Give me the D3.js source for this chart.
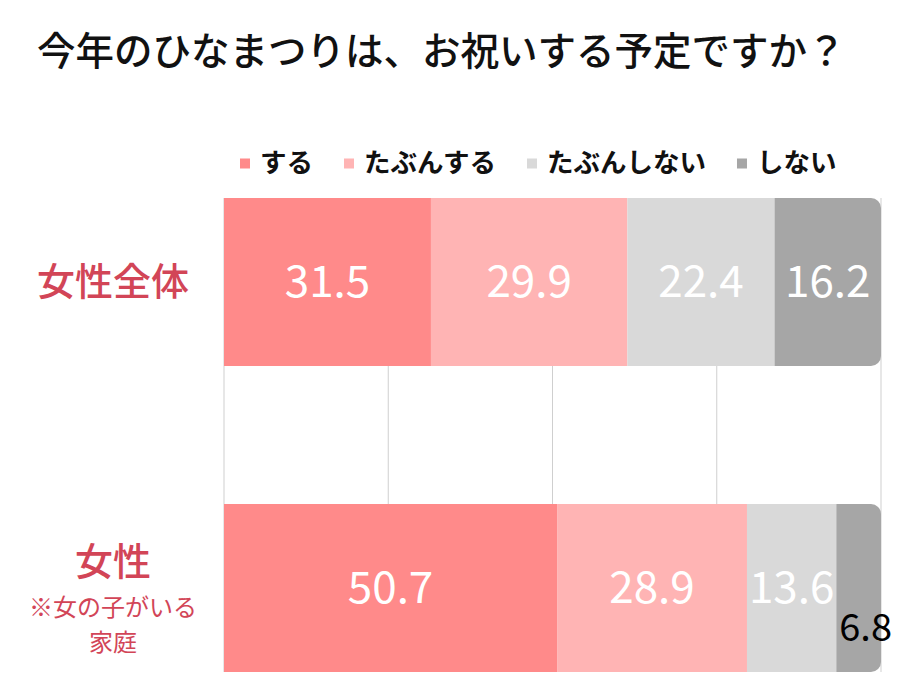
<!DOCTYPE html>
<html><head><meta charset="utf-8">
<script src="https://cdn.jsdelivr.net/npm/d3@7"></script>
<style>body{margin:0;background:#fff}svg{display:block;font-family:"Noto Sans CJK JP","Noto Sans",sans-serif}</style>
</head><body><svg id="c" width="900" height="699"></svg>
<script>
const title = "今年のひなまつりは、お祝いする予定ですか？";
const categories = ["女性全体", "女性"];
const categoryNotes = [[], ["※女の子がいる", "家庭"]];
const seriesNames = ["する", "たぶんする", "たぶんしない", "しない"];
const seriesColors = ["#FF8A8A", "#FFB4B4", "#D9D9D9", "#A6A6A6"];
const values = [
  [31.5, 29.9, 22.4, 16.2],
  [50.7, 28.9, 13.6, 6.8]
];
const gridTicks = [0, 25, 50, 75, 100];

const svg = d3.select("#c");
const x = d3.scaleLinear().domain([0, 100]).range([224, 881]);
const y = d3.scaleBand().domain(categories).range([198, 672]).paddingInner(0.451).paddingOuter(0);
const color = d3.scaleOrdinal().domain(seriesNames).range(seriesColors);

svg.append("text").attr("x", 37).attr("y", 65).attr("font-size", 38.5).attr("font-weight", 500)
  .attr("fill", "#111").text(title);

// legend
const lg = svg.append("g");
let lx = 240;
seriesNames.forEach(n => {
  lg.append("rect").attr("x", lx).attr("y", 158.5).attr("width", 10).attr("height", 10).attr("fill", color(n));
  const t = lg.append("text").attr("x", lx + 20).attr("y", 163).attr("dy", "0.35em")
    .attr("font-size", 26.5).attr("font-weight", 700).attr("fill", "#111").text(n);
  lx += 20 + t.node().getComputedTextLength() + 31;
});

// grid
svg.append("g").selectAll("line").data(gridTicks).join("line")
  .attr("x1", d => x(d)).attr("x2", d => x(d))
  .attr("y1", y.range()[0]).attr("y2", y.range()[1])
  .attr("stroke", "#cfcfcf").attr("stroke-width", 1);

// clip for rounded right end
const defs = svg.append("defs");
categories.forEach((c, i) => {
  defs.append("clipPath").attr("id", "clip" + i).append("rect")
    .attr("x", x(0) - 20).attr("y", y(c)).attr("width", x(100) - x(0) + 20).attr("height", y.bandwidth())
    .attr("rx", 10).attr("ry", 10);
});

const stacked = values.map(row => {
  let acc = 0;
  return row.map((v, j) => { const s = {x0: acc, x1: acc + v, v, j}; acc += v; return s; });
});

categories.forEach((c, i) => {
  const g = svg.append("g").attr("clip-path", `url(#clip${i})`);
  g.selectAll("rect").data(stacked[i]).join("rect")
    .attr("x", d => x(d.x0)).attr("y", y(c))
    .attr("width", d => x(d.x1) - x(d.x0)).attr("height", y.bandwidth())
    .attr("fill", d => color(seriesNames[d.j]));
  const cy = y(c) + y.bandwidth() / 2;
  svg.append("g").selectAll("text").data(stacked[i]).join("text")
    .attr("x", d => (x(d.x0) + x(d.x1)) / 2 + (d.v < 10 ? 7 : 0))
    .attr("y", d => d.v < 10 ? cy + 40 : cy)
    .attr("dy", "0.35em").attr("text-anchor", "middle")
    .attr("font-size", d => d.v < 10 ? 38 : 44)
    .attr("fill", d => d.v < 10 ? "#000" : "#fff")
    .text(d => d.v.toFixed(1));
});

// category labels
categories.forEach((c, i) => {
  const cy = y(c) + y.bandwidth() / 2;
  const notes = categoryNotes[i];
  if (notes.length === 0) {
    svg.append("text").attr("x", 113).attr("y", cy).attr("dy", "0.35em").attr("text-anchor", "middle")
      .attr("font-size", 38).attr("font-weight", 500).attr("fill", "#D24557").text(c);
  } else {
    svg.append("text").attr("x", 113).attr("y", cy - 26).attr("dy", "0.35em").attr("text-anchor", "middle")
      .attr("font-size", 38).attr("font-weight", 500).attr("fill", "#D24557").text(c);
    notes.forEach((n, k) => {
      svg.append("text").attr("x", 113).attr("y", cy + 20 + k * 35).attr("dy", "0.35em").attr("text-anchor", "middle")
        .attr("font-size", 24).attr("fill", "#D24557").text(n);
    });
  }
});
</script></body></html>
